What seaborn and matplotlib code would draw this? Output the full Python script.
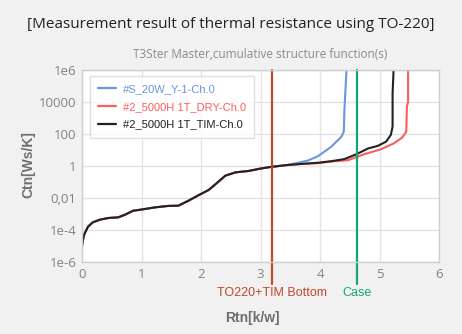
import matplotlib
matplotlib.use("Agg")
import matplotlib.pyplot as plt
import matplotlib.transforms as mtransforms
import seaborn as sns
import pandas as pd

# ---- data ----
common_x = [0.00, 0.02, 0.04, 0.10, 0.18, 0.30, 0.44, 0.61, 0.72, 0.86, 1.00, 1.23,
            1.45, 1.62, 1.79, 1.96, 2.13, 2.25, 2.41, 2.58, 2.80, 3.00, 3.17, 3.42]
common_y = [1.0e-5, 2.8e-5, 5.5e-5, 1.6e-4, 3.0e-4, 4.4e-4, 5.6e-4, 6.2e-4, 8.9e-4,
            1.6e-3, 1.9e-3, 2.6e-3, 3.2e-3, 3.3e-3, 6.8e-3, 1.5e-2, 3.2e-2, 7.6e-2,
            0.25, 0.40, 0.49, 0.69, 0.87, 1.12]

blue_x = [3.45, 3.63, 3.80, 3.97, 4.19, 4.36, 4.40, 4.41, 4.45]
blue_y = [1.17, 1.6, 2.2, 4.2, 16, 68, 138, 3200, 2e6]

black_x = [3.63, 3.97, 4.19, 4.41, 4.61, 4.81, 4.97, 5.11, 5.19, 5.22, 5.22, 5.24]
black_y = [1.3, 1.6, 2.0, 2.7, 5.4, 12.6, 18, 33, 87, 290, 3.5e4, 2e6]

red_x = [3.63, 3.97, 4.19, 4.47, 4.74, 5.02, 5.24, 5.38, 5.45, 5.46, 5.48, 5.48]
red_y = [1.3, 1.5, 1.9, 2.3, 5.4, 11, 26, 59, 138, 5000, 1e4, 2e6]

series_names = ["#S_20W_Y-1-Ch.0", "#2_5000H 1T_DRY-Ch.0", "#2_5000H 1T_TIM-Ch.0"]
series_colors = ["#6a96e0", "#ff5c5c", "#222222"]

yticks = [1e-6, 1e-4, 1e-2, 1, 100, 1e4, 1e6]
ytick_labels = ["1e-6", "1e-4", "0,01", "1", "100", "10000", "1e6"]
xticks = [0, 1, 2, 3, 4, 5, 6]

markers_x = [3.2, 4.63]
markers_label = ["TO220+TIM Bottom", "Case"]
markers_color = ["#c0472b", "#12a57a"]

# ---- build table ----
rows = []
tails = [(blue_x, blue_y), (red_x, red_y), (black_x, black_y)]
for name, (tx, ty) in zip(series_names, tails):
    for x, y in zip(common_x + tx, common_y + ty):
        rows.append({"series": name, "Rtn": x, "Ctn": y})
df = pd.DataFrame(rows)

sns.set_theme(style="whitegrid")
plt.rcParams["font.family"] = ["Liberation Sans", "DejaVu Sans"]

fig = plt.figure(figsize=(4.62, 3.34), dpi=100)
fig.patch.set_facecolor("#f1f1f1")
ax = fig.add_axes([82 / 462, 1 - 262 / 334, (439 - 82) / 462, (262 - 70) / 334])
ax.set_facecolor("white")

sns.lineplot(data=df, x="Rtn", y="Ctn", hue="series", hue_order=series_names,
             palette=dict(zip(series_names, series_colors)), sort=False,
             estimator=None, linewidth=1.5, ax=ax, legend=False)

ax.set_yscale("log")
ax.set_xlim(0, 6)
ax.set_ylim(1e-6, 1e6)
ax.set_yticks(yticks)
ax.set_yticklabels(ytick_labels)
ax.set_xticks(xticks)
ax.yaxis.set_minor_locator(matplotlib.ticker.NullLocator())
ax.grid(True, color="#e3e3e3", linewidth=1.0)
ax.tick_params(length=0, labelsize=9.5, labelcolor="#828282", pad=4)
for lab in ax.get_xticklabels() + ax.get_yticklabels():
    lab.set_fontfamily("Open Sans")
for s in ax.spines.values():
    s.set_color("#cfcfcf")
    s.set_linewidth(1.0)

ax.set_xlabel("")
ax.set_ylabel("")

# vertical markers
trans = mtransforms.blended_transform_factory(ax.transData, ax.transAxes)
for mx, ml, mc in zip(markers_x, markers_label, markers_color):
    ax.axvline(mx, ymin=-0.115, ymax=1, color=mc, linewidth=1.6, clip_on=False)
    ax.text(mx, -0.16, ml, transform=trans, ha="center", va="center",
            color=mc, fontsize=9)

# legend
from matplotlib.lines import Line2D
handles = [Line2D([0], [0], color=c, linewidth=1.6) for c in series_colors]
leg = ax.legend(handles, series_names, loc="upper left", bbox_to_anchor=(0.0, 1.0),
                frameon=True, fontsize=8, handlelength=1.6, handletextpad=0.6,
                labelspacing=0.68, borderpad=0.75, fancybox=False,
                borderaxespad=0.0)
leg.set_bbox_to_anchor((90 / 462, 1 - 76 / 334), transform=fig.transFigure)
leg.get_frame().set_edgecolor("#d8d8d8")
leg.get_frame().set_linewidth(1.0)
for t, c in zip(leg.get_texts(), series_colors):
    t.set_color(c)

# titles and axis labels
fig.text(0.5, 1 - 25 / 334, "[Measurement result of thermal resistance using TO-220]",
         ha="center", va="center", fontsize=11, color="#222222", family="Open Sans")
fig.text(260.5 / 462, 1 - 55 / 334, "T3Ster Master,cumulative structure function(s)",
         ha="center", va="center", fontsize=8.5, color="#8a8a8a", family="Open Sans")
fig.text(252 / 462, 1 - 318 / 334, "Rtn[k/w]", ha="center", va="center",
         fontsize=10, fontweight="bold", color="#6e6e6e")
fig.text(28 / 462, 1 - 165 / 334, "Ctn[Ws/K]", ha="center", va="center", rotation=90,
         fontsize=10, fontweight="bold", color="#6e6e6e")

fig.savefig("out.png", dpi=100, facecolor=fig.get_facecolor())
